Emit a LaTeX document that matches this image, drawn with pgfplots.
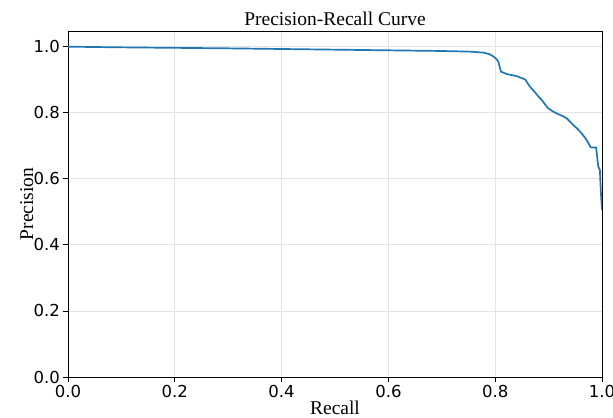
\documentclass[border=0pt]{standalone}
\usepackage{fontspec}
\setmainfont{Liberation Serif}
\newfontfamily\tickfont{DejaVu Sans}
\usepackage{pgfplots}
\pgfplotsset{compat=1.18}
\definecolor{c0}{HTML}{1F77B4}
\begin{document}
\begin{tikzpicture}
\begin{axis}[
  at={(0,0)}, anchor=south west,
  scale only axis, width=534bp, height=346bp,
  xmin=0, xmax=1, ymin=0, ymax=1.0475,
  xtick={0,0.2,0.4,0.6,0.8,1.0},
  ytick={0,0.2,0.4,0.6,0.8,1.0},
  xticklabels={0.0,0.2,0.4,0.6,0.8,1.0},
  yticklabels={0.0,0.2,0.4,0.6,0.8,1.0},
  xtick pos=bottom, ytick pos=left,
  tick align=outside, major tick length=4.9bp,
  tick style={black, line width=0.8bp},
  axis line style={black, line width=0.8bp},
  grid=major, grid style={gray!22, line width=0.8bp},
  ticklabel style={font=\tickfont\fontsize{16.5bp}{18bp}\selectfont, inner sep=0pt},
  xticklabel style={anchor=north, yshift=-8bp+4.9bp},
  yticklabel style={anchor=east, xshift=-8bp+4.9bp},
  title={Precision-Recall Curve},
  every axis title shift=0pt,
  title style={at={(axis description cs:0.5,1.0173)}, anchor=base, font=\fontsize{19.5bp}{22bp}\selectfont, inner sep=0pt},
  xlabel={Recall},
  xlabel style={at={(axis description cs:0.5,-0.1098)}, anchor=base, font=\fontsize{19.5bp}{22bp}\selectfont, inner sep=0pt},
  ylabel={Precision},
  ylabel style={at={(axis description cs:-0.0655,0.5)}, anchor=base, rotate=0, font=\fontsize{19.5bp}{22bp}\selectfont, inner sep=0pt},
]
\addplot[c0, line width=1.7bp, line join=round] coordinates {
(0,1.0) (0.1,0.998) (0.3,0.995) (0.5,0.991) (0.7,0.987) (0.753,0.985)
(0.778,0.982) (0.790,0.977) (0.797,0.970) (0.802,0.963) (0.806,0.955)
(0.809,0.935) (0.811,0.924) (0.822,0.917) (0.840,0.911) (0.856,0.901)
(0.865,0.879) (0.874,0.863) (0.881,0.849) (0.887,0.839) (0.893,0.826)
(0.899,0.814) (0.907,0.805) (0.915,0.798) (0.925,0.791) (0.934,0.783)
(0.940,0.773) (0.946,0.763) (0.953,0.753) (0.959,0.743) (0.965,0.731)
(0.971,0.718) (0.979,0.695) (0.989,0.695) (0.991,0.665) (0.993,0.637)
(0.996,0.627) (0.997,0.590) (0.998,0.556) (1.0,0.506)
};
\end{axis}
\pgfresetboundingbox
\useasboundingbox (-68bp,-41bp) rectangle (545bp,377bp);
\end{tikzpicture}
\end{document}
